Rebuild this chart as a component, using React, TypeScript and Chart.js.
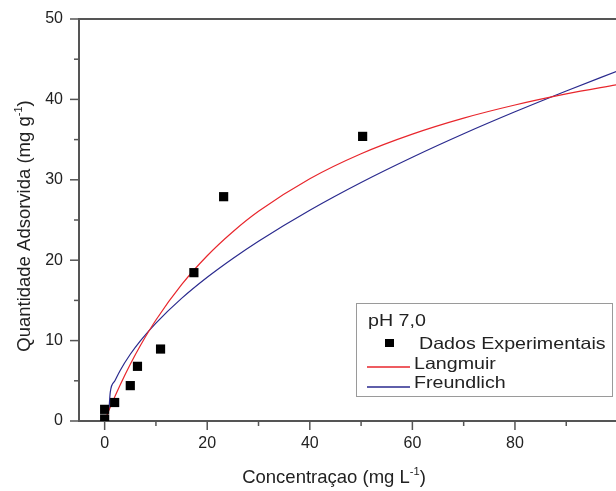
import React, { useEffect, useRef } from "react";
import { Chart, registerables } from "chart.js";

Chart.register(...registerables);

// ---- data ----
const expC = [0, 0, 1.95, 5.0, 6.4, 10.9, 17.4, 23.2, 50.3];
const expQ = [0.25, 1.45, 2.3, 4.4, 6.8, 8.95, 18.45, 27.9, 35.4];

const langC = [0, 0.5, 1, 2, 3, 5, 7, 10, 15, 20, 25, 30, 40, 50, 60, 70, 80, 90, 100];
const langQ = [0, 0.8, 1.57, 3.05, 4.46, 7.06, 9.42, 12.56, 16.95, 20.55, 23.54, 26.08, 30.13, 33.24, 35.68, 37.67, 39.3, 40.68, 41.85];

const freuC = [0.85, 1.1, 2, 3, 5, 7, 10, 15, 20, 25, 30, 40, 50, 60, 70, 80, 90, 100];
const freuQ = [1.45, 3.6, 5.0, 6.26, 8.3, 10.0, 12.18, 15.25, 17.88, 20.22, 22.37, 26.22, 29.67, 32.81, 35.73, 38.46, 41.05, 43.54];

const xTickValues = [0, 10, 20, 30, 40, 50, 60, 70, 80, 90];
const xLabeled = [0, 20, 40, 60, 80];
const yTickValues = [0, 5, 10, 15, 20, 25, 30, 35, 40, 45, 50];
const yLabeled = [0, 10, 20, 30, 40, 50];

const seriesNames = ["Dados Experimentais", "Langmuir", "Freundlich"];
const legendTitle = "pH 7,0";
const xTitleParts = ["Concentraçao (mg L", "-1", ")"];
const yTitleParts = ["Quantidade Adsorvida (mg g", "-1", ")"];

const FONT = '"Liberation Sans", Arial, sans-serif';
const RED = "#e8262c";
const BLUE = "#2a2a8e";
const AXIS = "#555555";
const TEXT = "#222222";

function drawSupText(ctx: CanvasRenderingContext2D, parts: string[], size: number, cx: number, baseY: number) {
  const big = `${size}px ${FONT}`;
  const small = `${size * 0.6}px ${FONT}`;
  ctx.font = big;
  const w0 = ctx.measureText(parts[0]).width;
  ctx.font = small;
  const w1 = ctx.measureText(parts[1]).width;
  ctx.font = big;
  const w2 = ctx.measureText(parts[2]).width;
  const total = w0 + w1 + w2;
  let x = cx - total / 2;
  ctx.textAlign = "left";
  ctx.textBaseline = "alphabetic";
  ctx.fillStyle = TEXT;
  ctx.font = big;
  ctx.fillText(parts[0], x, baseY);
  x += w0;
  ctx.font = small;
  ctx.fillText(parts[1], x, baseY - size * 0.42);
  x += w1;
  ctx.font = big;
  ctx.fillText(parts[2], x, baseY);
}

function legendText(ctx: CanvasRenderingContext2D, text: string, x: number, y: number) {
  ctx.save();
  ctx.translate(x, y);
  ctx.scale(1.19, 1);
  ctx.fillStyle = TEXT;
  ctx.fillText(text, 0, 0);
  ctx.restore();
}

function legendLine(ctx: CanvasRenderingContext2D, color: string, x0: number, x1: number, y: number) {
  ctx.save();
  ctx.strokeStyle = color;
  ctx.lineWidth = 1.4;
  ctx.beginPath();
  ctx.moveTo(x0, y);
  ctx.lineTo(x1, y);
  ctx.stroke();
  ctx.restore();
}

const decor = {
  id: "decor",
  afterDatasetsDraw(chart: any) {
    const { ctx, chartArea: ca, scales } = chart;
    const x = scales.x;
    const y = scales.y;
    ctx.save();
    // top frame line
    ctx.strokeStyle = AXIS;
    ctx.lineWidth = 2;
    ctx.beginPath();
    ctx.moveTo(ca.left - 1, ca.top);
    ctx.lineTo(ca.right, ca.top);
    ctx.stroke();
    // tick marks
    ctx.lineWidth = 1.5;
    for (const v of xTickValues) {
      const px = x.getPixelForValue(v);
      const len = xLabeled.includes(v) ? 9 : 5;
      ctx.beginPath();
      ctx.moveTo(px, ca.bottom);
      ctx.lineTo(px, ca.bottom + len);
      ctx.stroke();
    }
    for (const v of yTickValues) {
      const py = y.getPixelForValue(v);
      const len = yLabeled.includes(v) ? 9 : 5;
      ctx.beginPath();
      ctx.moveTo(ca.left, py);
      ctx.lineTo(ca.left - len, py);
      ctx.stroke();
    }
    ctx.restore();
  },
  afterDraw(chart: any) {
    const { ctx, chartArea: ca } = chart;
    ctx.save();
    // axis titles
    drawSupText(ctx, xTitleParts, 18.5, ca.left + 255, ca.bottom + 62);
    ctx.save();
    ctx.translate(30, ca.top + 207);
    ctx.rotate(-Math.PI / 2);
    drawSupText(ctx, yTitleParts, 18.5, 0, 0);
    ctx.restore();

    // legend box
    const bx = ca.right - 260;
    const by = ca.bottom - 118;
    ctx.fillStyle = "#ffffff";
    ctx.fillRect(bx, by, 256, 93);
    ctx.strokeStyle = "#9a9a9a";
    ctx.lineWidth = 1;
    ctx.strokeRect(bx + 0.5, by + 0.5, 256, 93);

    ctx.font = `16.5px ${FONT}`;
    ctx.textAlign = "left";
    ctx.textBaseline = "alphabetic";
    legendText(ctx, legendTitle, bx + 12, by + 23);

    // experimental marker
    ctx.fillStyle = "#000000";
    ctx.fillRect(bx + 29, by + 36, 9, 8);
    legendText(ctx, seriesNames[0], bx + 63, by + 45.5);

    legendLine(ctx, RED, bx + 11, bx + 54, by + 64);
    legendText(ctx, seriesNames[1], bx + 58, by + 65.5);

    legendLine(ctx, BLUE, bx + 11, bx + 54, by + 84);
    legendText(ctx, seriesNames[2], bx + 58, by + 84.5);
    ctx.restore();
  },
};

function zeroPad(s: any) {
  s.paddingLeft = 0;
  s.paddingRight = 0;
  s.paddingTop = 0;
  s.paddingBottom = 0;
}

export default function App() {
  const ref = useRef<HTMLCanvasElement | null>(null);

  useEffect(() => {
    if (!ref.current) return;
    const chart = new Chart(ref.current, {
      type: "scatter",
      data: {
        datasets: [
          {
            label: seriesNames[0],
            data: expC.map((c, i) => ({ x: c, y: expQ[i] })),
            pointStyle: "rect",
            pointRadius: 6.5,
            backgroundColor: "#000000",
            borderWidth: 0,
            showLine: false,
          },
          {
            label: seriesNames[1],
            data: langC.map((c, i) => ({ x: c, y: langQ[i] })),
            showLine: true,
            borderColor: RED,
            borderWidth: 1.2,
            pointRadius: 0,
            cubicInterpolationMode: "monotone",
          },
          {
            label: seriesNames[2],
            data: freuC.map((c, i) => ({ x: c, y: freuQ[i] })),
            showLine: true,
            borderColor: BLUE,
            borderWidth: 1.2,
            pointRadius: 0,
            cubicInterpolationMode: "monotone",
          },
        ],
      },
      options: {
        responsive: false,
        animation: false,
        devicePixelRatio: 1,
        events: [],
        layout: { autoPadding: false, padding: { top: 19, left: 0, right: 0, bottom: 0 } },
        plugins: { legend: { display: false }, tooltip: { enabled: false } },
        scales: {
          x: {
            type: "linear",
            min: -5,
            max: 99.7,
            afterBuildTicks: (s: any) => {
              s.ticks = xTickValues.map((v) => ({ value: v }));
            },
            afterFit: (s: any) => {
              s.height = 70;
              zeroPad(s);
            },
            ticks: {
              autoSkip: false,
              maxRotation: 0,
              padding: 13,
              color: TEXT,
              font: { family: FONT, size: 16 },
              callback: (v: any) => (xLabeled.includes(Number(v)) ? String(v) : ""),
            },
            grid: { display: true, drawOnChartArea: false, drawTicks: false },
            border: { display: true, color: AXIS, width: 2 },
          },
          y: {
            type: "linear",
            min: 0,
            max: 50,
            afterBuildTicks: (s: any) => {
              s.ticks = yTickValues.map((v) => ({ value: v }));
            },
            afterFit: (s: any) => {
              s.width = 79;
              zeroPad(s);
            },
            ticks: {
              autoSkip: false,
              padding: 16,
              color: TEXT,
              font: { family: FONT, size: 16 },
              callback: (v: any) => (yLabeled.includes(Number(v)) ? String(v) : ""),
            },
            grid: { display: true, drawOnChartArea: false, drawTicks: false },
            border: { display: true, color: AXIS, width: 2 },
          },
        },
      },
      plugins: [decor],
    });
    return () => chart.destroy();
  }, []);

  return (
    <div style={{ position: "fixed", left: 0, top: 0, width: 616, height: 491, background: "#fff" }}>
      <canvas ref={ref} width={616} height={491} style={{ display: "block" }} />
    </div>
  );
}
